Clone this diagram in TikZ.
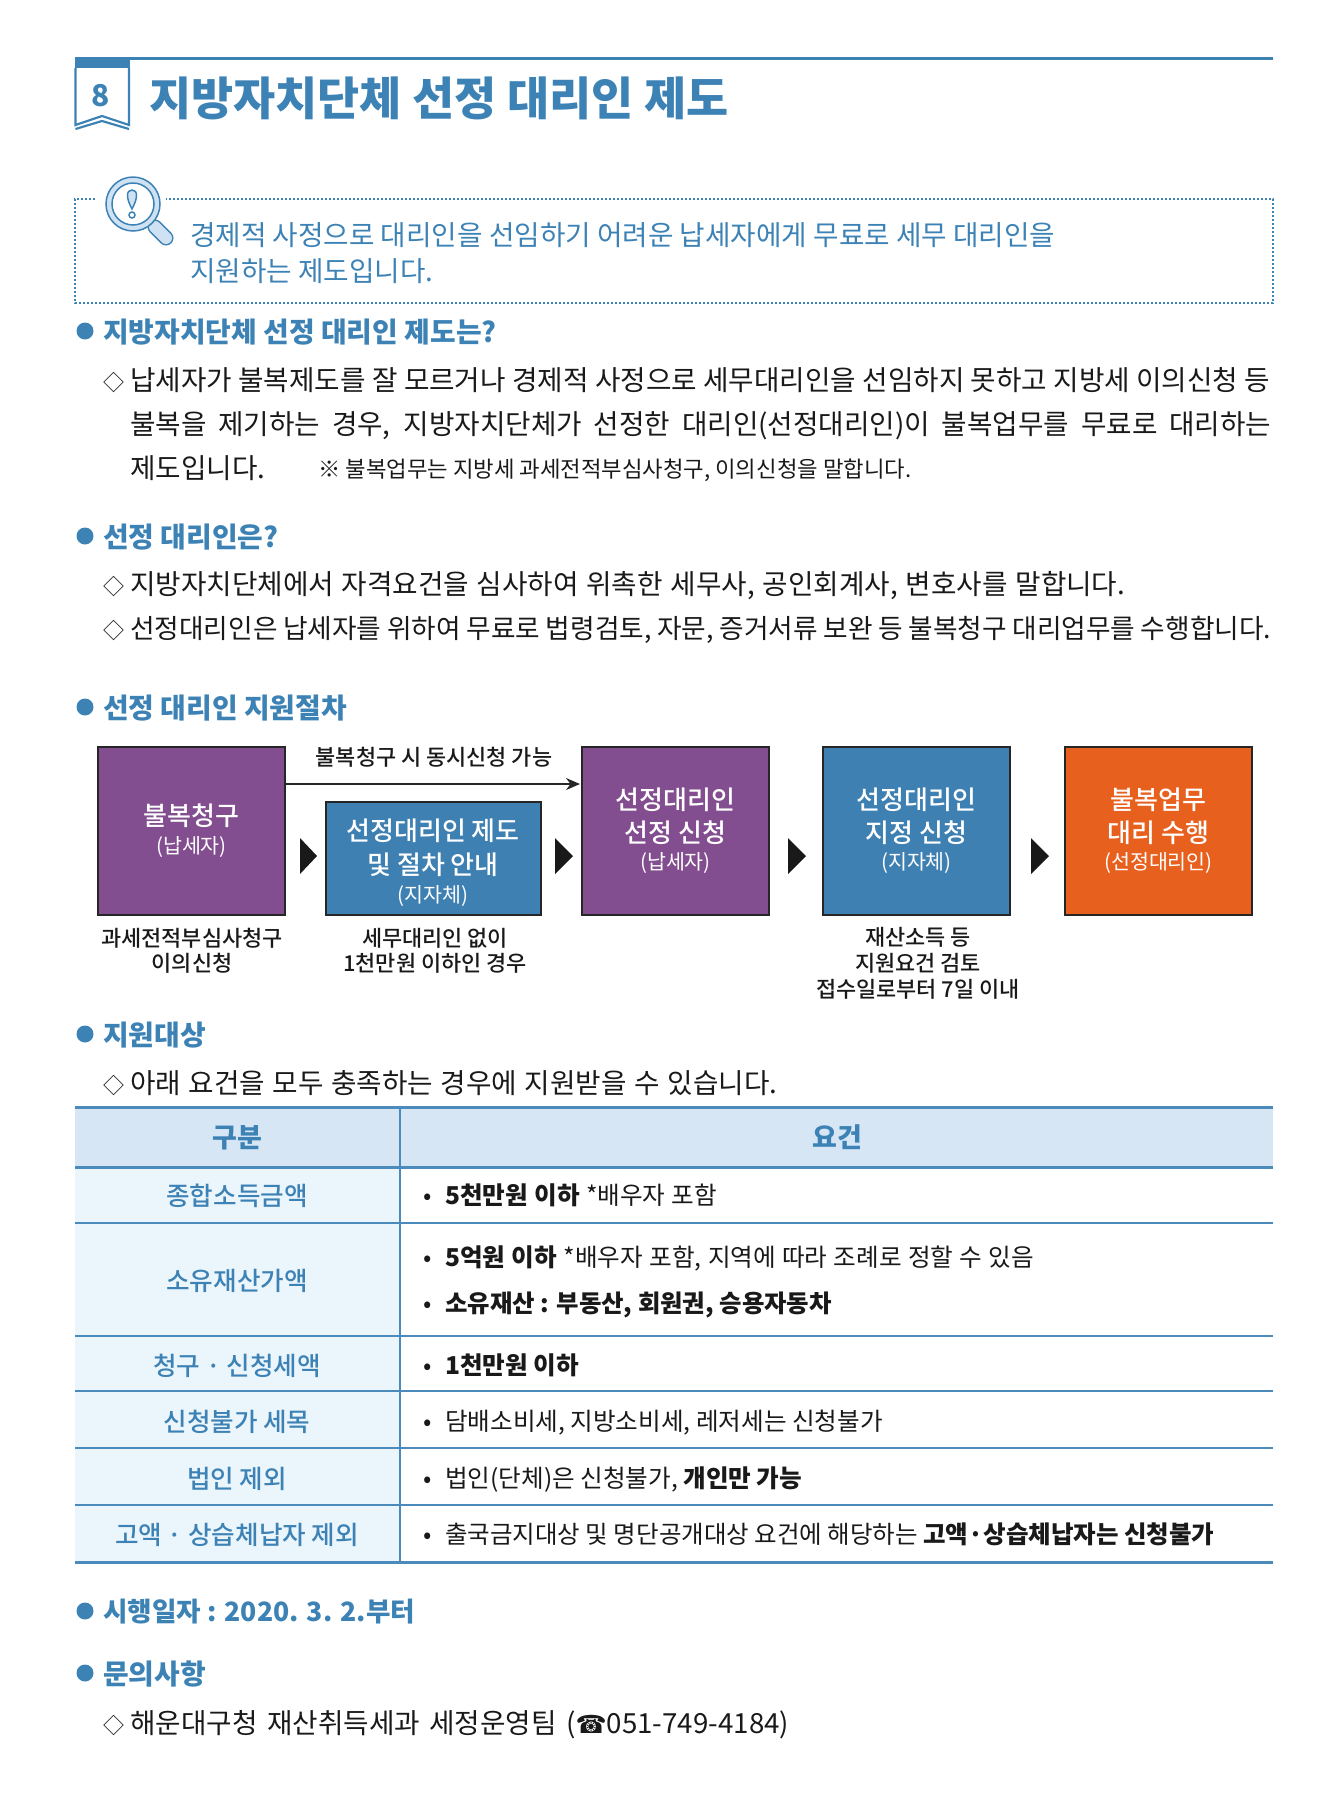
\documentclass[tikz,border=0pt]{standalone}
\usepackage{fontspec}
\usepackage{amssymb}
\usetikzlibrary{arrows.meta}
\setmainfont{Noto Sans CJK KR}
\newfontfamily\kor{Noto Sans CJK KR}
\newfontfamily\korblack{Noto Sans CJK KR Black}
\newfontfamily\kormed{Noto Sans CJK KR Medium}
\newfontfamily\phonefont{DejaVu Sans}
\definecolor{secblue}{HTML}{3D82B5}
\definecolor{linblue}{HTML}{4A8BBB}
\definecolor{headfill}{HTML}{D6E6F5}
\definecolor{labfill}{HTML}{EBF5FC}
\definecolor{magfill}{HTML}{CFE2F3}
\definecolor{boxpurple}{HTML}{834E90}
\definecolor{boxblue}{HTML}{3F80B3}
\definecolor{boxorange}{HTML}{E8601E}
\newcommand{\bod}{\kor\fontsize{27.7}{33}\selectfont}
\newcommand{\subfnt}{\kor\fontsize{20.6}{24}\selectfont}
\newcommand{\dia}{\makebox[27pt][l]{\fontsize{21}{21}\selectfont ◇}}
\newcommand{\spread}[2]{\makebox[#1pt][s]{#2}}
\tikzset{
  line/.style={inner sep=0pt, execute at begin node={\vrule width 0pt height 1em depth .2em\relax}},
  body/.style={line, anchor=west, font=\bod, text=black!90},
  sec/.style={line, anchor=west, font=\bfseries\fontsize{27.9}{33}\selectfont, text=secblue},
  dot/.style={circle, fill=secblue, inner sep=0pt, minimum size=17pt},
  step box/.style={draw=black!85, line width=2pt, inner sep=0pt, align=center, text=white,
    minimum width=187pt, minimum height=168pt, font=\kormed\fontsize{26}{33}\selectfont},
  note/.style={line, font=\kormed\fontsize{21.9}{25}\selectfont, text=black!90},
  lab/.style={line, font=\kormed\fontsize{25.6}{30}\selectfont, text=secblue},
  cell/.style={line, anchor=west, font=\kor\fontsize{24.6}{30}\selectfont, text=black!90},
  tick/.style={line, font=\kor\fontsize{24.6}{30}\selectfont, text=black!90},
  rule/.style={draw=linblue, line width=1.8pt},
}
\begin{document}
\begin{tikzpicture}[x=1pt,y=-1pt]
  \useasboundingbox (0,0) rectangle (1344,1808);
  % heading
  \draw[secblue, line width=3pt] (75,58) -- (1273,58);
  \fill[secblue] (75,57) rectangle (130,68);
  \draw[secblue, line width=2.2pt] (75.5,68) -- (75.5,125) -- (102,116) -- (129,125) -- (129,68);
  \draw[secblue, line width=2.2pt] (75.5,129) -- (102,121) -- (129,129);
  \node[line, font=\korblack\fontsize{30}{30}\selectfont, text=secblue] (num) at (101,94) {8};
  \node[line, anchor=west, font=\korblack\fontsize{45.8}{50}\selectfont, text=secblue] (title) at (149,97) {지방자치단체 선정 대리인 제도};
  % intro box
  \draw[secblue, line width=2.5pt, dash pattern=on 2.2pt off 1.8pt] (95,199) -- (75,199) -- (75,303) -- (1273,303) -- (1273,199) -- (166,199);
  \draw[secblue, line width=15pt, line cap=round] (155,227) -- (166,238);
  \draw[magfill, line width=12pt, line cap=round] (155,227) -- (166,238);
  \draw[secblue, line width=1.5pt, fill=magfill] (133,204) circle (27pt);
  \draw[secblue, line width=1.5pt, fill=white] (133,204) circle (21pt);
  \draw[secblue, line width=1.5pt, fill=magfill] (132,209) .. controls (126,198) and (126,190) .. (132,190) .. controls (138,190) and (138,198) .. (132,209) -- cycle;
  \draw[secblue, line width=1.5pt] (132,215) circle (3pt);
  \node[body, text=secblue] (intro1) at (190,234) {경제적 사정으로 대리인을 선임하기 어려운 납세자에게 무료로 세무 대리인을};
  \node[body, text=secblue] (intro2) at (190,270) {지원하는 제도입니다.};
  % section 1
  \node[dot] (d1) at (85,331) {};
  \node[sec] (s1) at (103,331) {지방자치단체 선정 대리인 제도는?};
  \node[body] (a1) at (103,379) {\dia\spread{1140}{납세자가 불복제도를 잘 모르거나 경제적 사정으로 세무대리인을 선임하지 못하고 지방세 이의신청 등}};
  \node[body] (a2) at (130,423) {\spread{1141}{불복을 제기하는 경우, 지방자치단체가 선정한 대리인(선정대리인)이 불복업무를 무료로 대리하는}};
  \node[body] (a3) at (130,467) {제도입니다.};
  \node[body, font=\kor\fontsize{22.3}{25}\selectfont] (a4) at (318,469) {※ 불복업무는 지방세 과세전적부심사청구, 이의신청을 말합니다.};
  % section 2
  \node[dot] (d2) at (85,536) {};
  \node[sec] (s2) at (103,536) {선정 대리인은?};
  \node[body] (b1) at (103,583) {\dia\spread{995}{지방자치단체에서 자격요건을 심사하여 위촉한 세무사, 공인회계사, 변호사를 말합니다.}};
  \node[body, font=\kor\fontsize{26.7}{33}\selectfont] (b2) at (103,628) {\dia\spread{1141}{선정대리인은 납세자를 위하여 무료로 법령검토, 자문, 증거서류 보완 등 불복청구 대리업무를 수행합니다.}};
  % section 3
  \node[dot] (d3) at (85,707) {};
  \node[sec] (s3) at (103,707) {선정 대리인 지원절차};
  \node[step box, fill=boxpurple] (req) at (191.5,831) {불복청구\\[-5pt]{\subfnt(납세자)}};
  \node[step box, fill=boxblue, minimum width=215pt, minimum height=113pt] (guide) at (433,858.5) {\rule{0pt}{31pt}선정대리인 제도\\[1pt]및 절차 안내\\[-5pt]{\subfnt(지자체)}};
  \node[step box, fill=boxpurple] (apply) at (675.5,831) {선정대리인\\선정 신청\\[-6pt]{\subfnt(납세자)}};
  \node[step box, fill=boxblue] (assign) at (916.5,831) {선정대리인\\지정 신청\\[-6pt]{\subfnt(지자체)}};
  \node[step box, fill=boxorange] (perform) at (1158.5,831) {불복업무\\대리 수행\\[-6pt]{\subfnt(선정대리인)}};
  \coordinate (arrowfrom) at (285,784);
  \coordinate (arrowto) at (580,784);
  \draw[black!85, line width=2pt, -{Stealth[length=14pt,width=12pt]}] (arrowfrom) -- (arrowto);
  \node[note] (both) at (434,757) {불복청구 시 동시신청 가능};
  \fill[black!90] (300,838) -- (317,856) -- (300,874) -- cycle;
  \fill[black!90] (555,838) -- (573,856) -- (555,874) -- cycle;
  \fill[black!90] (788,838) -- (806,856) -- (788,874) -- cycle;
  \fill[black!90] (1031,838) -- (1049,856) -- (1031,874) -- cycle;
  \node[note] (c1) at (192,938) {과세전적부심사청구};
  \node[note] (c2) at (192,963) {이의신청};
  \node[note] (c3) at (435,938) {세무대리인 없이};
  \node[note] (c4) at (435,963) {1천만원 이하인 경우};
  \node[note] (c5) at (918,937) {재산소득 등};
  \node[note] (c6) at (918,963) {지원요건 검토};
  \node[note] (c7) at (918,989) {접수일로부터 7일 이내};
  % section 4
  \node[dot] (d4) at (85,1034) {};
  \node[sec] (s4) at (103,1034) {지원대상};
  \node[body] (t0) at (103,1082) {\dia\spread{647}{아래 요건을 모두 충족하는 경우에 지원받을 수 있습니다.}};
  % table
  \fill[headfill] (75,1107) rectangle (1273,1167);
  \fill[labfill] (75,1167) rectangle (400,1562);
  \draw[rule, line width=3pt] (75,1107) -- (1273,1107);
  \draw[rule, line width=3pt] (75,1167) -- (1273,1167);
  \draw[rule] (75,1223) -- (1273,1223);
  \draw[rule] (75,1336) -- (1273,1336);
  \draw[rule] (75,1391) -- (1273,1391);
  \draw[rule] (75,1448) -- (1273,1448);
  \draw[rule] (75,1505) -- (1273,1505);
  \draw[rule, line width=3pt] (75,1562) -- (1273,1562);
  \draw[rule] (400,1107) -- (400,1562);
  \node[lab, font=\korblack\fontsize{27}{30}\selectfont] (h1) at (237,1137) {구분};
  \node[lab, font=\korblack\fontsize{27}{30}\selectfont] (h2) at (837,1137) {요건};
  \node[lab] (l1) at (237,1195) {종합소득금액};
  \node[lab] (l2) at (237,1280) {소유재산가액};
  \node[lab] (l3) at (237,1365) {청구 · 신청세액};
  \node[lab] (l4) at (237,1421) {신청불가 세목};
  \node[lab] (l5) at (237,1478) {법인 제외};
  \node[lab] (l6) at (237,1534) {고액 · 상습체납자 제외};
  \node[tick] (k1) at (428,1195) {•};
  \node[tick] (k2) at (428,1257) {•};
  \node[tick] (k3) at (428,1303) {•};
  \node[tick] (k4) at (428,1365) {•};
  \node[tick] (k5) at (428,1421) {•};
  \node[tick] (k6) at (428,1478) {•};
  \node[tick] (k7) at (428,1534) {•};
  \node[cell] (v1) at (445,1195) {\spread{272}{\textbf{5천만원 이하} *배우자 포함}};
  \node[cell] (v2) at (445,1257) {\spread{589}{\textbf{5억원 이하} *배우자 포함, 지역에 따라 조례로 정할 수 있음}};
  \node[cell, font=\kor\fontsize{24.4}{30}\selectfont] (v3) at (445,1303) {\textbf{소유재산 : 부동산, 회원권, 승용자동차}};
  \node[cell] (v4) at (445,1365) {\textbf{1천만원 이하}};
  \node[cell] (v5) at (445,1421) {담배소비세, 지방소비세, 레저세는 신청불가};
  \node[cell] (v6) at (445,1478) {법인(단체)은 신청불가, \textbf{개인만 가능}};
  \node[cell, font=\kor\fontsize{24.5}{30}\selectfont] (v7) at (445,1534) {출국금지대상 및 명단공개대상 요건에 해당하는 \textbf{고액·상습체납자는 신청불가}};
  % footer
  \node[dot] (d5) at (85,1611) {};
  \node[sec, font=\bfseries\fontsize{26.6}{33}\selectfont] (s5) at (103,1611) {시행일자 : 2020. 3. 2.부터};
  \node[dot] (d6) at (85,1673) {};
  \node[sec] (s6) at (103,1673) {문의사항};
  \node[body] (z1) at (103,1722) {\dia\spread{659}{해운대구청 재산취득세과 세정운영팀 ({\phonefont\fontsize{25}{30}\selectfont ☎}051-749-4184)}};
\end{tikzpicture}
\end{document}
